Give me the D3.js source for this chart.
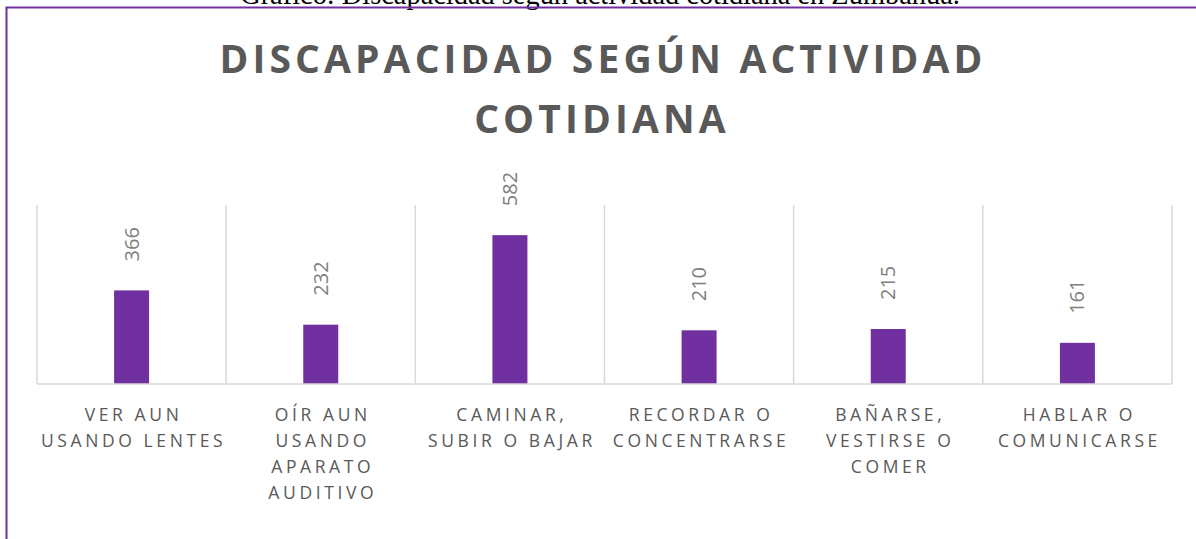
<!DOCTYPE html>
<html>
<head>
<meta charset="utf-8">
<script src="https://cdn.jsdelivr.net/npm/d3@7"></script>
<style>
  html, body { margin: 0; padding: 0; background: #ffffff; }
  svg { display: block; }
</style>
</head>
<body>
<svg id="chart" width="1196" height="539"></svg>
<script>
// ---- data ----
const categories = [
  "VER AUN\nUSANDO LENTES",
  "OÍR AUN\nUSANDO\nAPARATO\nAUDITIVO",
  "CAMINAR,\nSUBIR O BAJAR",
  "RECORDAR O\nCONCENTRARSE",
  "BAÑARSE,\nVESTIRSE O\nCOMER",
  "HABLAR O\nCOMUNICARSE"
];
const values = [366, 232, 582, 210, 215, 161];
const titleLines = ["DISCAPACIDAD SEGÚN ACTIVIDAD", "COTIDIANA"];
const captionText = "Gráfico: Discapacidad según actividad cotidiana en Zumbahua.";
const yDomain = [0, 700];

// ---- drawing ----
const svg = d3.select("#chart");
const plotLeft = 37, plotRight = 1172, plotTop = 205, plotBottom = 384;

// caption (clipped at top of the page)
const cap = svg.append("text")
  .attr("x", 600).attr("y", 3.5)
  .attr("text-anchor", "middle")
  .attr("font-family", "'Liberation Serif', 'Times New Roman', serif")
  .attr("font-size", 21)
  .attr("fill", "#000")
  .text(captionText);
{
  const len = cap.node().getComputedTextLength();
  cap.attr("font-size", 21 * 720 / len);
}

// outer chart border
svg.append("rect")
  .attr("x", 6.5).attr("y", 7.5)
  .attr("width", 1300).attr("height", 700)
  .attr("fill", "none")
  .attr("stroke", "#7030a0")
  .attr("stroke-width", 2);

// title
const titleG = svg.append("g")
  .attr("font-family", "'Open Sans', 'Noto Sans', sans-serif")
  .attr("font-weight", 700)
  .attr("font-size", 39)
  .attr("fill", "#595959")
  .attr("text-anchor", "middle");
const t1 = titleG.append("text").attr("x", 603).attr("y", 73).text(titleLines[0]);
{
  const n = titleLines[0].length;
  const len = t1.node().getComputedTextLength();
  const ls = (763 - len) / (n - 1);
  titleG.attr("letter-spacing", ls);
}
titleG.append("text").attr("x", 602).attr("y", 133).text(titleLines[1]);

// scales
const x = d3.scaleBand().domain(categories).range([plotLeft, plotRight]).paddingInner(0).paddingOuter(0);
const y = d3.scaleLinear().domain(yDomain).range([plotBottom, plotTop]);

// vertical gridlines at category boundaries
const bounds = categories.map(c => x(c)).concat([x(categories[categories.length - 1]) + x.bandwidth()]);
svg.append("g").selectAll("line").data(bounds).join("line")
  .attr("x1", d => d).attr("x2", d => d)
  .attr("y1", plotTop).attr("y2", plotBottom)
  .attr("stroke", "#d9d9d9").attr("stroke-width", 1.5);

// bars
const barW = 35;
svg.append("g").selectAll("rect").data(values).join("rect")
  .attr("x", (d, i) => x(categories[i]) + x.bandwidth() / 2 - barW / 2)
  .attr("y", d => y(d))
  .attr("width", barW)
  .attr("height", d => y(0) - y(d))
  .attr("fill", "#7030a0");

// baseline axis
svg.append("line")
  .attr("x1", plotLeft).attr("x2", plotRight)
  .attr("y1", plotBottom).attr("y2", plotBottom)
  .attr("stroke", "#d9d9d9").attr("stroke-width", 1.5);

// value labels (rotated)
svg.append("g").selectAll("text").data(values).join("text")
  .attr("transform", (d, i) => {
    const cx = x(categories[i]) + x.bandwidth() / 2 + 7;
    const cy = y(d) - 29;
    return `translate(${cx},${cy}) rotate(-90)`;
  })
  .attr("font-family", "'Open Sans', 'Noto Sans', sans-serif")
  .attr("font-size", 20)
  .attr("fill", "#7f7f7f")
  .attr("text-anchor", "start")
  .text(d => d);

// category labels
const catG = svg.append("g")
  .attr("font-family", "'Open Sans', 'Noto Sans', sans-serif")
  .attr("font-size", 17.5)
  .attr("fill", "#595959")
  .attr("letter-spacing", 3.6)
  .attr("text-anchor", "middle");
categories.forEach((c, i) => {
  const lines = c.split("\n");
  const cx = x(c) + x.bandwidth() / 2 + 2;
  const t = catG.append("text");
  lines.forEach((ln, j) => {
    t.append("tspan").attr("x", cx).attr("y", 420.5 + j * 26.3).text(ln);
  });
});
</script>
</body>
</html>
